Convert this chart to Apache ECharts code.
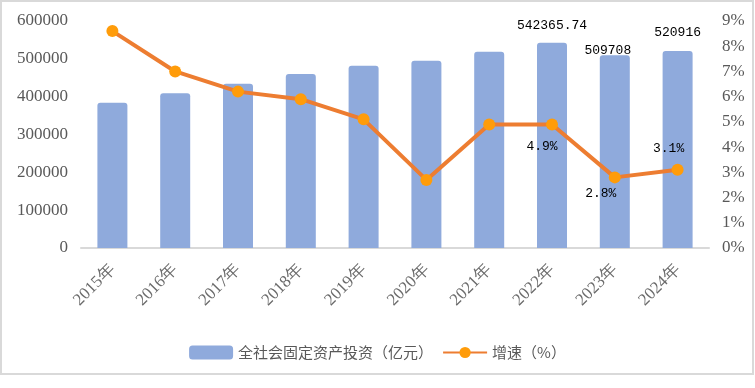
<!DOCTYPE html>
<html><head><meta charset="utf-8">
<script src="https://cdn.jsdelivr.net/npm/echarts@6/dist/echarts.min.js"></script>
<style>html,body{margin:0;padding:0;background:#fff}#c{width:755px;height:388px}</style>
</head><body><div id="c"></div>
<script>
var categories = ['2015年','2016年','2017年','2018年','2019年','2020年','2021年','2022年','2023年','2024年'];
var investment = [384000, 409000, 434000, 460000, 482000, 495000, 519000, 542365.74, 509708, 520916];
var growth = [8.6, 7.0, 6.2, 5.9, 5.1, 2.7, 4.9, 4.9, 2.8, 3.1];
var leftTicks = [0, 100000, 200000, 300000, 400000, 500000, 600000];

var labelFont = {fontFamily:'Liberation Mono', fontSize:13, color:'#000'};
var barData = investment.map(function(v,i){
  var d = {value:v};
  if (i===7) d.label = Object.assign({show:true, position:'top', distance:0, offset:[0,-11]}, labelFont);
  if (i===8) d.label = Object.assign({show:true, position:'top', distance:0, offset:[-7,2]}, labelFont);
  if (i===9) d.label = Object.assign({show:true, position:'top', distance:0, offset:[0,-12]}, labelFont);
  return d;
});
var lineData = growth.map(function(v,i){
  var d = {value:v};
  var fmt = function(p){return p.value.toFixed(1)+'%';};
  if (i===7) d.label = Object.assign({show:true, position:'inside', offset:[-10,22], formatter:fmt}, labelFont);
  if (i===8) d.label = Object.assign({show:true, position:'inside', offset:[-14,16], formatter:fmt}, labelFont);
  if (i===9) d.label = Object.assign({show:true, position:'inside', offset:[-9,-21], formatter:fmt}, labelFont);
  return d;
});

var chart = echarts.init(document.getElementById('c'), null, {renderer:'canvas'});
chart.setOption({
  animation:false,
  backgroundColor:'#fff',
  graphic:[{type:'rect', shape:{x:1,y:1,width:752,height:373}, style:{fill:'none', stroke:'#D9D9D9', lineWidth:2}, z:-1}],
  grid:{left:81, right:46, top:21, bottom:140},
  legend:{
    left:'center', top:340, itemWidth:44, itemHeight:14, itemGap:9,
    textStyle:{fontFamily:'Noto Sans CJK SC', fontSize:15, color:'#595959'},
    data:[{name:'全社会固定资产投资（亿元）', icon:'roundRect'}, {name:'增速（%）'}]
  },
  xAxis:{
    type:'category', data:categories,
    axisLine:{lineStyle:{color:'#D9D9D9', width:2}},
    axisTick:{show:false},
    axisLabel:{rotate:45, margin:19, fontFamily:'Liberation Serif', fontSize:17, color:'#6B6B6B', interval:0}
  },
  yAxis:[
    {type:'value', min:leftTicks[0], max:leftTicks[leftTicks.length-1], interval:100000,
     axisLine:{show:false}, axisTick:{show:false}, splitLine:{show:false},
     axisLabel:{margin:13, fontFamily:'Liberation Serif', fontSize:17, color:'#595959', formatter:function(v){return String(v);}}},
    {type:'value', min:0, max:9, interval:1,
     axisLine:{show:false}, axisTick:{show:false}, splitLine:{show:false},
     axisLabel:{margin:13, fontFamily:'Liberation Serif', fontSize:17, color:'#595959', formatter:'{value}%'}}
  ],
  series:[
    {name:'全社会固定资产投资（亿元）', type:'bar', data:barData, barWidth:30,
     itemStyle:{color:'#8FAADC', borderRadius:[3,3,0,0]}},
    {name:'增速（%）', type:'line', yAxisIndex:1, data:lineData,
     symbol:'circle', symbolSize:12,
     lineStyle:{color:'#ED7D31', width:4},
     itemStyle:{color:'#FF9C0A'}}
  ]
});
</script></body></html>
